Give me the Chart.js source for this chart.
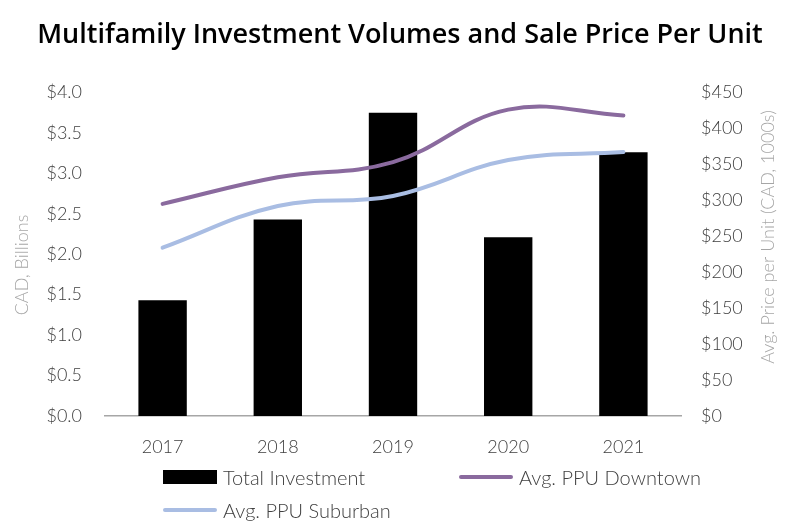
<!DOCTYPE html>
<html lang="en">
<head>
  <meta charset="utf-8">
  <title>Multifamily Investment Volumes</title>
  <script src="https://cdn.jsdelivr.net/npm/chart.js"></script>
  <style>
    body {
      margin: 0;
      background-color: #ffffff;
    }
    .wrap {
      position: relative;
      width: 800px;
      height: 531px;
    }
    .legend {
      position: absolute;
      font-family: Lato, sans-serif;
      font-weight: 300;
      font-size: 20px;
      color: #404040;
      display: flex;
      align-items: center;
      height: 24px;
    }
    .legend .swatch {
      display: inline-block;
      width: 54px;
      margin-right: 6px;
    }
  </style>
</head>
<body>
  <div class="wrap">
    <canvas id="chart" width="800" height="531"></canvas>
    <div class="legend" style="left:163px; top:465px;"><span class="swatch" style="height:14px; background:#000000;"></span>Total Investment</div>
    <div class="legend" style="left:459px; top:465px;"><span class="swatch" style="height:4px; background:#8a6a9e; border-radius:2px;"></span>Avg. PPU Downtown</div>
    <div class="legend" style="left:163px; top:498px;"><span class="swatch" style="height:4px; background:#a9bde3; border-radius:2px;"></span>Avg. PPU Suburban</div>
  </div>

  <script>
    const years = ['2017', '2018', '2019', '2020', '2021'];
    const totalInvestment = [1.43, 2.43, 3.75, 2.21, 3.26];
    const ppuDowntown = [295, 332, 353, 426, 418];
    const ppuSuburban = [234, 292, 306, 356, 367];

    const tickFont = { family: 'Lato', size: 18, weight: '300' };

    // both axis titles read bottom-to-top and sit a bit off-centre, so draw them by hand
    const axisTitles = {
      id: 'axisTitles',
      afterDraw(chart) {
        const ctx = chart.ctx;
        const put = (text, x, y) => {
          ctx.save();
          ctx.translate(x, y);
          ctx.rotate(-Math.PI / 2);
          ctx.font = '300 18px Lato';
          ctx.fillStyle = '#a6a6a6';
          ctx.textAlign = 'center';
          ctx.textBaseline = 'middle';
          ctx.fillText(text, 0, 0);
          ctx.restore();
        };
        put('CAD, Billions', 22, 265);
        put('Avg. Price per Unit (CAD, 1000s)', 768, 237);
      }
    };

    new Chart(document.getElementById('chart'), {
      data: {
        labels: years,
        datasets: [
          {
            type: 'line',
            label: 'Avg. PPU Downtown',
            data: ppuDowntown,
            yAxisID: 'y1',
            borderColor: '#8a6a9e',
            borderWidth: 4,
            pointRadius: 0,
            tension: 0.4,
            borderCapStyle: 'round',
            order: 1
          },
          {
            type: 'line',
            label: 'Avg. PPU Suburban',
            data: ppuSuburban,
            yAxisID: 'y1',
            borderColor: '#a9bde3',
            borderWidth: 4,
            pointRadius: 0,
            tension: 0.4,
            borderCapStyle: 'round',
            order: 2
          },
          {
            type: 'bar',
            label: 'Total Investment',
            data: totalInvestment,
            yAxisID: 'y',
            backgroundColor: '#000000',
            barPercentage: 1,
            categoryPercentage: 0.42,
            order: 3
          }
        ]
      },
      options: {
        responsive: false,
        animation: false,
        layout: { padding: { top: 0, bottom: 75, left: 0, right: 0 } },
        plugins: {
          legend: { display: false },
          tooltip: { enabled: false },
          title: {
            display: true,
            text: 'Multifamily Investment Volumes and Sale Price Per Unit',
            color: '#000000',
            font: { family: 'Open Sans', size: 27, weight: '600' },
            padding: { top: 19, bottom: 41 }
          }
        },
        scales: {
          x: {
            grid: { display: false, drawTicks: false },
            border: { display: true, color: '#a6a6a6', width: 1.5 },
            ticks: { color: '#404040', font: tickFont, padding: 20 },
            afterFit(scale) { scale.height = 40; }
          },
          y: {
            position: 'left',
            min: 0,
            max: 4,
            grid: { display: false, drawTicks: false },
            border: { display: false },
            ticks: {
              stepSize: 0.5,
              color: '#404040',
              font: tickFont,
              padding: 23,
              callback: v => '$' + v.toFixed(1)
            },
            afterFit(scale) { scale.width = 105; }
          },
          y1: {
            position: 'right',
            min: 0,
            max: 450,
            grid: { display: false, drawTicks: false },
            border: { display: false },
            ticks: {
              stepSize: 50,
              color: '#404040',
              font: tickFont,
              padding: 20,
              callback: v => '$' + v
            },
            afterFit(scale) { scale.width = 119; }
          }
        }
      },
      plugins: [axisTitles]
    });
  </script>
</body>
</html>
